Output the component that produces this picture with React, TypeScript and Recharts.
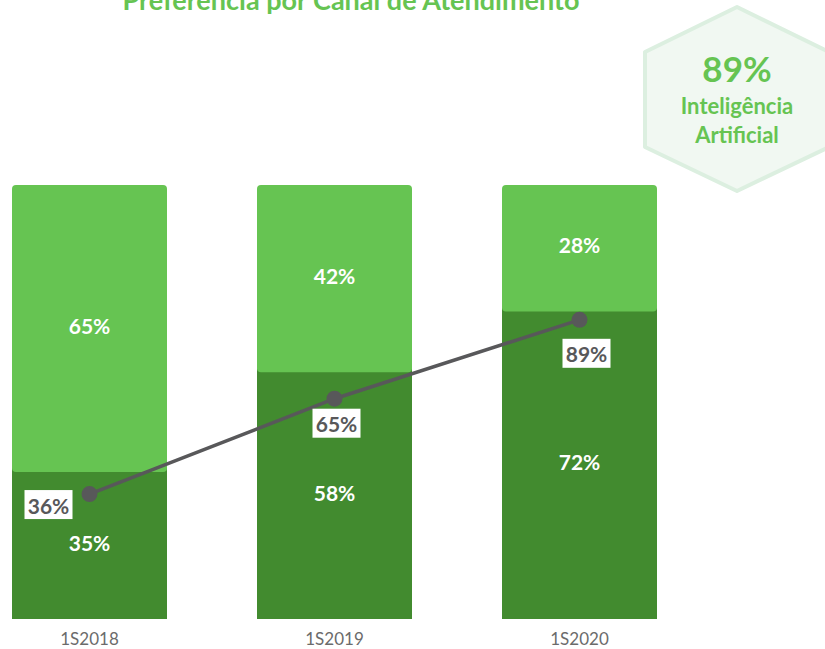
import React from 'react';
import { ComposedChart, Bar, Line, XAxis, YAxis, LabelList } from 'recharts';

const semesters = ['1S2018', '1S2019', '1S2020'];
const humanShare = [35, 58, 72];
const otherShare = [65, 42, 28];
const aiPreference = [36, 65, 89];

const LIGHT = '#66c452';
const DARK = '#428b2f';
const GREY = '#58585a';
const FONT = 'Lato, "Open Sans", sans-serif';

const data = semesters.map((s, i) => ({
  semester: s,
  human: humanShare[i],
  other: otherShare[i],
  ai: aiPreference[i],
}));

// the light segment overlaps the dark one a little, with rounded corners
const TopSegment = (props: any) => {
  const { x, y, width, height } = props;
  const r = 4;
  const h = height + 5;
  return (
    <rect x={x} y={y} width={width} height={h} rx={r} ry={r} fill={LIGHT} />
  );
};

// where each grey label sits relative to its dot
const nudge = [
  { dx: -41, dy: 11 },
  { dx: 2, dy: 25 },
  { dx: 7, dy: 34 },
];

const AiLabel = (props: any) => {
  const { x, y, value, index } = props;
  const n = nudge[index] || { dx: 0, dy: 25 };
  const cx = x + n.dx;
  const cy = y + n.dy;
  return (
    <g>
      <rect x={cx - 24} y={cy - 15} width={48} height={29} fill="#fff" />
      <text
        x={cx}
        y={cy}
        textAnchor="middle"
        dominantBaseline="central"
        fill={GREY}
        fontSize={21}
        fontWeight={700}
        fontFamily={FONT}
      >
        {`${value}%`}
      </text>
    </g>
  );
};

const pct = (v: any) => `${v}%`;

export default function App() {
  return (
    <div
      style={{
        position: 'absolute',
        left: 0,
        top: 0,
        width: 825,
        height: 649,
        overflow: 'hidden',
        background: '#fff',
        fontFamily: FONT,
      }}
    >
      <div style={{ position: 'absolute', left: -33, top: 0 }}>
        <ComposedChart
          width={858}
          height={649}
          data={data}
          margin={{ top: 185, right: 123, bottom: 0, left: 0 }}
          barCategoryGap={45}
        >
          <XAxis
            dataKey="semester"
            axisLine={false}
            tickLine={false}
            tickSize={0}
            tickMargin={14}
            height={30}
            tick={{ fontSize: 17, fill: '#6b6b6b', fontFamily: FONT }}
          />
          <YAxis yAxisId="share" hide domain={[0, 100]} />
          <YAxis yAxisId="ai" hide domain={[-2, 130]} />
          <Bar yAxisId="share" dataKey="human" stackId="s" fill={DARK} isAnimationActive={false}>
            <LabelList
              dataKey="human"
              position="center"
              formatter={pct}
              fill="#fff"
              fontSize={21}
              fontWeight={700}
              fontFamily={FONT}
            />
          </Bar>
          <Bar
            yAxisId="share"
            dataKey="other"
            stackId="s"
            fill={LIGHT}
            shape={TopSegment}
            isAnimationActive={false}
          >
            <LabelList
              dataKey="other"
              position="center"
              formatter={pct}
              fill="#fff"
              fontSize={21}
              fontWeight={700}
              fontFamily={FONT}
            />
          </Bar>
          <Line
            yAxisId="ai"
            dataKey="ai"
            stroke={GREY}
            strokeWidth={3.5}
            dot={{ r: 8, fill: GREY, stroke: 'none' }}
            activeDot={false}
            isAnimationActive={false}
          >
            <LabelList dataKey="ai" content={AiLabel} />
          </Line>
        </ComposedChart>
      </div>

      <svg
        width={825}
        height={649}
        style={{ position: 'absolute', left: 0, top: 0, pointerEvents: 'none' }}
      >
        <text
          x={351}
          y={10}
          textAnchor="middle"
          fill={LIGHT}
          fontSize={27}
          fontWeight={700}
          fontFamily={FONT}
        >
          Preferência por Canal de Atendimento
        </text>
        <polygon
          points="737,7 829,52 829,147 737,191 645,147 645,52"
          fill="#f1f8f2"
          stroke="#dcefe0"
          strokeWidth={4}
          strokeLinejoin="round"
        />
        <text x={737} y={82} textAnchor="middle" fill={LIGHT} fontSize={35} fontWeight={700} fontFamily={FONT}>
          89%
        </text>
        <text x={737} y={114} textAnchor="middle" fill={LIGHT} fontSize={22} fontWeight={700} fontFamily={FONT}>
          Inteligência
        </text>
        <text x={737} y={143} textAnchor="middle" fill={LIGHT} fontSize={22} fontWeight={700} fontFamily={FONT}>
          Artificial
        </text>
      </svg>
    </div>
  );
}
